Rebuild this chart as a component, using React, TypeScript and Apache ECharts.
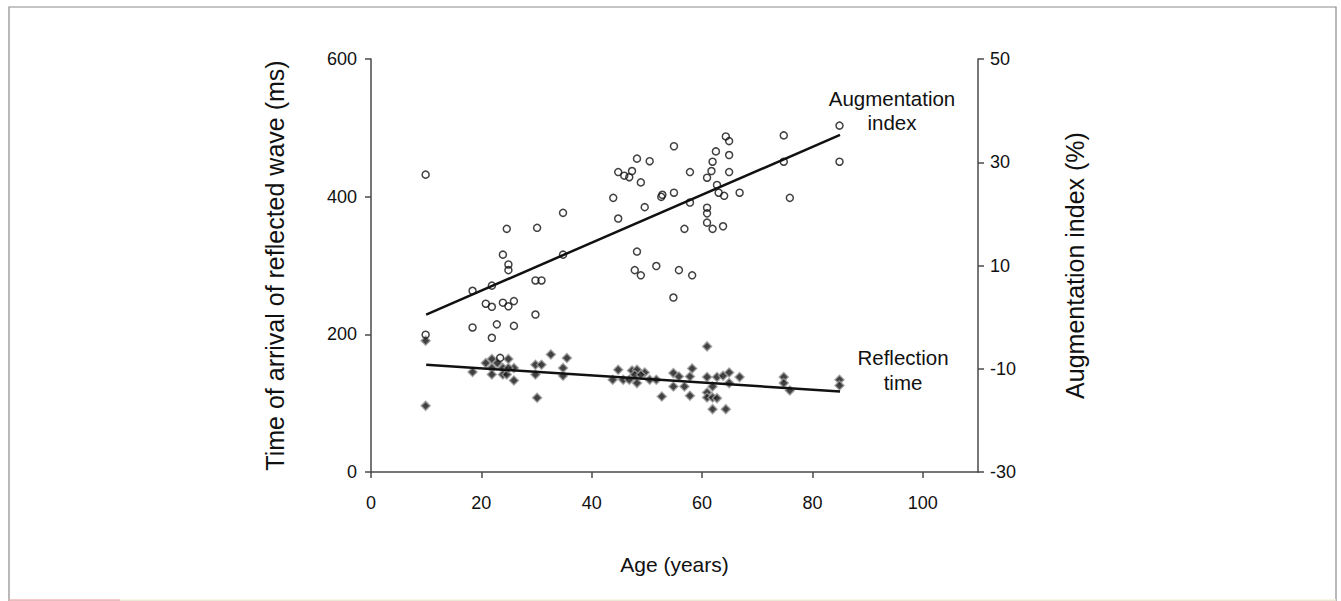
import React, { useEffect, useRef } from "react";
import * as echarts from "echarts";

// Augmentation index (right axis, %) – open circles
const aiAges = [9.9, 9.9, 18.4, 18.4, 20.8, 21.9, 21.9, 21.9, 22.8, 23.4, 23.9, 23.9, 24.6, 24.9, 24.9, 24.9, 25.9, 25.9, 29.8, 30.9, 29.8, 30.1, 34.8, 34.8, 43.9, 44.8, 44.8, 45.9, 46.8, 47.3, 47.8, 48.2, 48.2, 48.9, 48.9, 49.6, 50.5, 51.7, 52.6, 52.8, 54.9, 54.9, 54.8, 55.8, 56.8, 57.8, 57.8, 58.2, 60.9, 60.9, 60.9, 60.9, 61.7, 61.9, 61.9, 62.5, 62.7, 63.0, 63.8, 64.0, 64.3, 64.9, 64.9, 64.9, 66.8, 74.8, 74.8, 75.9, 84.9, 84.9];
const aiValues = [27.6, -3.4, 5.1, -2.0, 2.6, 6.1, 2.0, -4.0, -1.4, -7.9, 12.1, 2.8, 17.1, 10.2, 9.1, 2.1, 3.1, -1.7, 7.1, 7.1, 0.5, 17.3, 20.2, 12.1, 23.1, 28.1, 19.1, 27.4, 27.1, 28.3, 9.1, 30.7, 12.7, 26.1, 8.1, 21.3, 30.2, 9.9, 23.3, 23.7, 33.1, 24.1, 3.8, 9.1, 17.1, 28.1, 22.2, 8.1, 27.0, 21.2, 20.1, 18.3, 28.3, 30.1, 17.1, 32.1, 25.6, 24.1, 17.6, 23.5, 35.0, 34.1, 31.4, 28.1, 24.1, 35.2, 30.1, 23.1, 37.1, 30.1];

// Reflection time (left axis, ms) – filled diamonds
const rtAges = [9.9, 9.9, 18.4, 20.8, 21.9, 21.9, 21.9, 22.9, 24.9, 23.9, 23.9, 24.6, 25.9, 25.9, 24.9, 29.8, 30.9, 29.8, 30.1, 32.6, 34.8, 34.8, 35.5, 43.8, 44.8, 45.7, 46.8, 47.3, 48.2, 48.2, 47.8, 49.6, 48.9, 50.5, 51.7, 52.7, 54.8, 54.8, 55.8, 56.8, 57.8, 58.2, 57.8, 60.9, 60.9, 60.9, 60.9, 61.9, 61.9, 61.9, 62.7, 62.7, 63.8, 64.3, 64.9, 64.9, 66.8, 74.8, 74.8, 75.9, 84.9, 84.9];
const rtValues = [190.8, 96.1, 145.2, 158.3, 164.1, 151, 141.7, 158.3, 164.1, 151, 141.7, 141.7, 151, 133, 151, 155.8, 155.8, 141.7, 107.8, 170.8, 151, 139.8, 165.6, 134, 148.5, 134, 134, 147.5, 148.5, 129.2, 141.3, 144.6, 141.3, 134, 134, 109.7, 143.7, 124.2, 138.8, 124.2, 138.8, 150.5, 110.7, 182.5, 137.9, 115.5, 108.2, 124.2, 108.2, 91.3, 137.9, 107.3, 139.8, 91.3, 144.6, 129.2, 137.9, 137.9, 129.2, 118.4, 134, 125.7];

// Regression lines
const trendAges = [10, 85];
const aiTrend = [0.5, 35.3];
const rtTrend = [155.7, 117];

// Axis ticks
const xTicks = [0, 20, 40, 60, 80, 100];
const leftTicks = [0, 200, 400, 600];
const rightTicks = [-30, -10, 10, 30, 50];

const FONT = "Liberation Sans, Arial, Helvetica, sans-serif";

export default function App() {
  const ref = useRef<HTMLDivElement>(null);
  useEffect(() => {
    if (!ref.current) return;
    const chart = echarts.init(ref.current, null, { renderer: "svg" });
    const axisLine = { show: true, lineStyle: { color: "#4a4a4a", width: 1.5 } };
    const axisTick = (vals: number[]) => ({
      show: true,
      inside: false,
      length: 6,
      lineStyle: { color: "#4a4a4a", width: 1.5 },
      customValues: vals,
    });
    chart.setOption({
      animation: false,
      backgroundColor: "#fff",
      textStyle: { fontFamily: FONT },
      grid: { left: 371, right: 363, top: 59, bottom: 129, containLabel: false },
      xAxis: {
        type: "value",
        min: 0,
        max: 110,
        axisLine,
        axisTick: axisTick(xTicks),
        splitLine: { show: false },
        axisLabel: {
          customValues: xTicks,
          color: "#111",
          fontSize: 18,
          fontFamily: FONT,
          margin: 22,
        },
        name: "Age (years)",
        nameLocation: "middle",
        nameGap: 82,
        nameTextStyle: { color: "#111", fontSize: 21, fontFamily: FONT },
      },
      yAxis: [
        {
          type: "value",
          position: "left",
          min: 0,
          max: 600,
          interval: 200,
          axisLine,
          axisTick: axisTick(leftTicks),
          splitLine: { show: false },
          axisLabel: {
            customValues: leftTicks,
            color: "#111",
            fontSize: 18,
            fontFamily: FONT,
            margin: 14,
          },
          name: "Time of arrival of reflected wave (ms)",
          nameLocation: "middle",
          nameRotate: 90,
          nameGap: 84,
          nameTextStyle: { color: "#111", fontSize: 25, fontFamily: FONT },
        },
        {
          type: "value",
          position: "right",
          min: -30,
          max: 50,
          axisLine,
          axisTick: axisTick(rightTicks),
          splitLine: { show: false },
          axisLabel: {
            customValues: rightTicks,
            color: "#111",
            fontSize: 18,
            fontFamily: FONT,
            margin: 12,
          },
          name: "Augmentation index (%)",
          nameLocation: "middle",
          nameRotate: 90,
          nameGap: 84,
          nameTextStyle: { color: "#111", fontSize: 25, fontFamily: FONT },
        },
      ],
      graphic: [
        {
          type: "rect",
          shape: { x: 9, y: 7, width: 1327, height: 594 },
          style: { fill: "none", stroke: "#8c8c8c", lineWidth: 1.2 },
          silent: true,
        },
        {
          type: "line",
          shape: { x1: 9, y1: 600, x2: 120, y2: 600 },
          style: { stroke: "#f0b8b8", lineWidth: 1.5 },
          silent: true,
        },
        {
          type: "line",
          shape: { x1: 120, y1: 600, x2: 1336, y2: 600 },
          style: { stroke: "#f7f3dc", lineWidth: 1.5 },
          silent: true,
        },
        {
          type: "text",
          x: 892,
          y: 110,
          style: {
            text: "Augmentation\nindex",
            fill: "#111",
            font: `20.5px ${FONT}`,
            align: "center",
            verticalAlign: "middle",
            lineHeight: 24,
          },
        },
        {
          type: "text",
          x: 903,
          y: 370,
          style: {
            text: "Reflection\ntime",
            fill: "#111",
            font: `20.5px ${FONT}`,
            align: "center",
            verticalAlign: "middle",
            lineHeight: 25,
          },
        },
      ],
      series: [
        {
          type: "scatter",
          yAxisIndex: 0,
          symbol: "diamond",
          symbolSize: 9,
          itemStyle: { color: "#111", borderColor: "#9a9a9a", borderWidth: 1.5 },
          data: rtAges.map((a, i) => [a, rtValues[i]]),
          z: 3,
        },
        {
          type: "scatter",
          yAxisIndex: 1,
          symbol: "circle",
          symbolSize: 7,
          itemStyle: { color: "rgba(255,255,255,0)", borderColor: "#111", borderWidth: 1.5 },
          data: aiAges.map((a, i) => [a, aiValues[i]]),
          z: 4,
        },
        {
          type: "line",
          yAxisIndex: 1,
          symbol: "none",
          lineStyle: { color: "#111", width: 2.5 },
          data: trendAges.map((a, i) => [a, aiTrend[i]]),
          z: 5,
        },
        {
          type: "line",
          yAxisIndex: 0,
          symbol: "none",
          lineStyle: { color: "#111", width: 2.5 },
          data: trendAges.map((a, i) => [a, rtTrend[i]]),
          z: 5,
        },
      ],
    });
    return () => chart.dispose();
  }, []);
  return (
    <div
      ref={ref}
      style={{ position: "fixed", left: 0, top: 0, width: 1341, height: 601 }}
    />
  );
}
